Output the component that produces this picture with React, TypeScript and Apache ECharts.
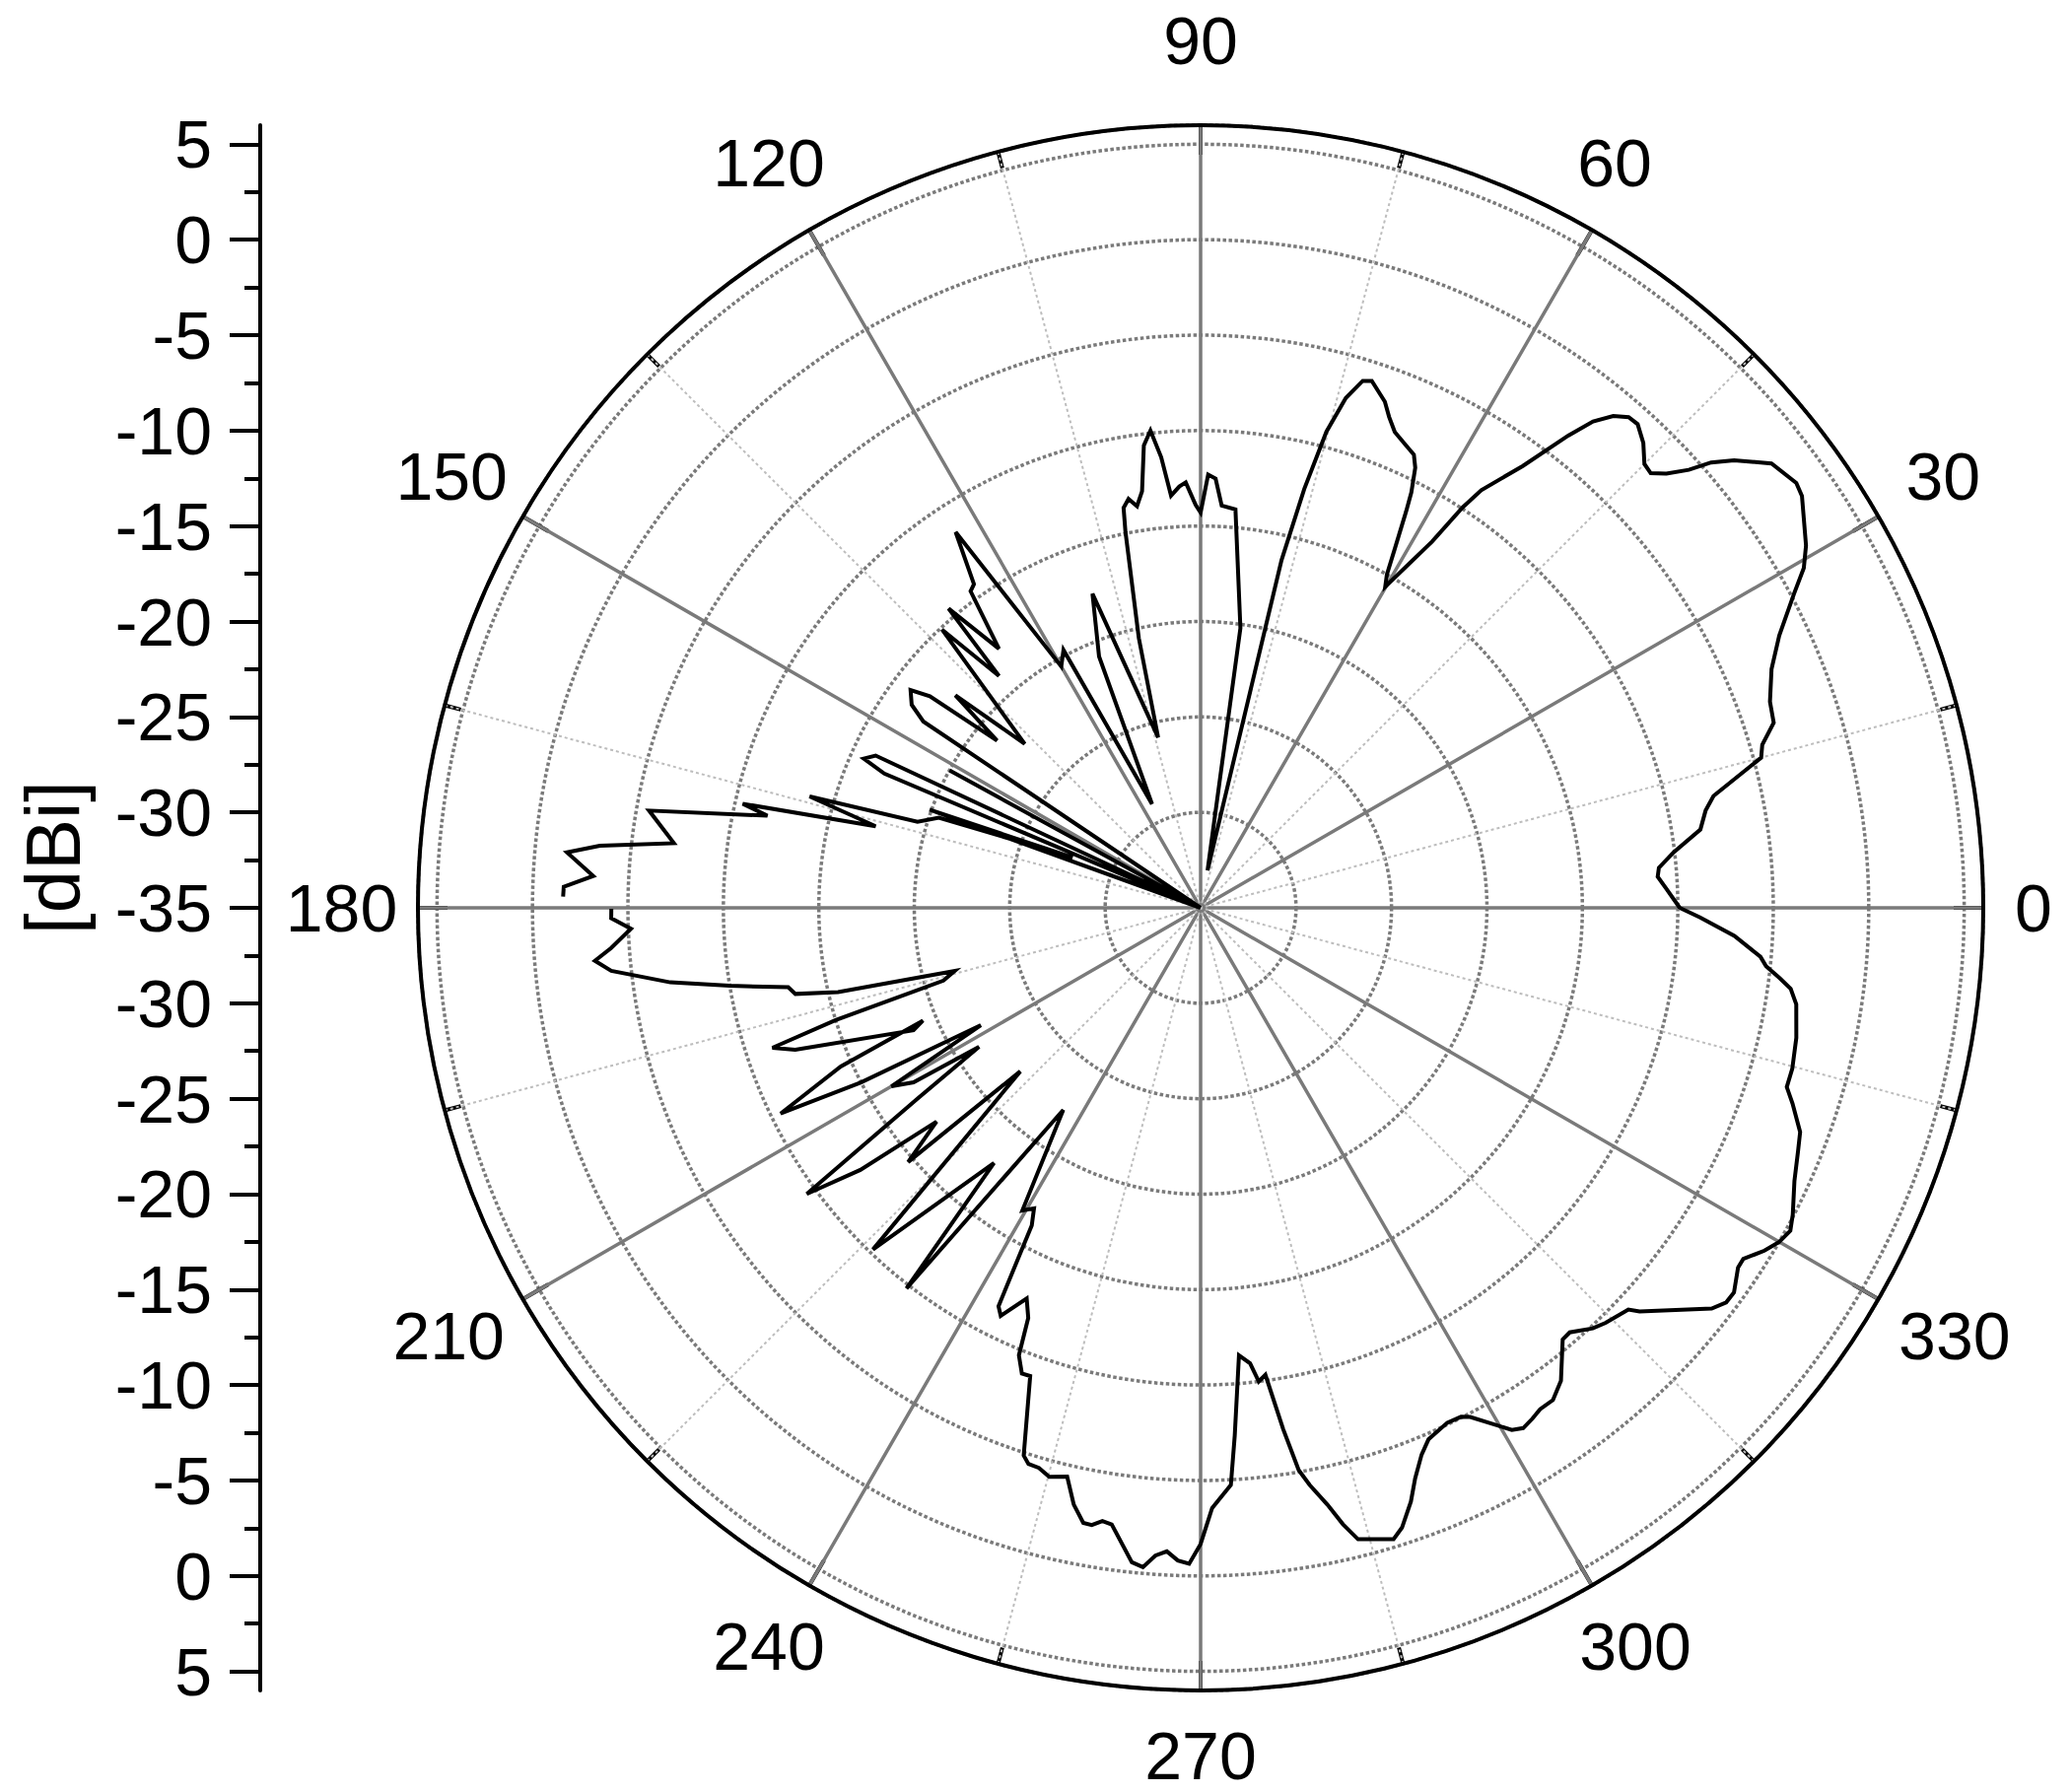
import React, { useEffect, useRef } from 'react';
import * as echarts from 'echarts';

// Measured radiation pattern: angle (deg) and gain (dBi). null = gap in the trace.
const ANGLE_DEG: number[] = [
  0, 2.4, 3.9, 5.0, 6.7, 8.9, 10.9, 12.3, 15.0, 16.2, 17.9, 19.9, 22.7, 25.2, 27.9, 29.4, 30.9, 34.4, 35.5, 37.9,
  40.0, 41.1, 41.9, 43.0, 44.0, 45.0, 46.4, 47.9, 48.9, 50.0, 51.1, 52.1, 53.9, 56.1, 56.8, 57.7, 60.1,
  60.8, 61.6, 62.6, 63.1, 64.0, 64.8, 66.1, 67.8, 69.0, 70.0, 72.0, 72.9, 74.1, 75.2, 76.1, 76.9, 79.5,
  81.9, 85.0, 87.0, 88.0, 89.0, 90.0, 90.7, 92.0, 92.9, 94.1, 95.0, 96.0, 97.0, 98.0, 99.0, 100.0, 100.9,
  101.3, 102.9, 104.0, 109.0, 112.0, 115.1, 118.0, 120.0, 123.1, 125.0, 126.0, 127.9, 130.1, 131.0, 132.9,
  137.0, 139.1, 140.6, 142.0, 143.1, 144.9, 146.1, 147.5, 151.3, 152.5, 154.9, 156.1, 157.0, 157.8, 160.1,
  158.5, 161.0, 163.1, 164.1, 165.9, 167.2, 168.0, 170.0, 173.0, 174.1, 175.0, 177.0, 178.1, 179.0,
  179.5,
  180.1, 181.0, 182.1, 183.9, 185.0, 186.1, 188.0, 189.4, 190.9, 192.0, 193.1, 193.9, 194.4, 195.8, 197.1,
  198.1, 199.3, 203.1, 202.1, 203.8, 206.1, 207.2, 208.1, 210.0, 211.3, 212.1, 214.0, 216.0, 217.6, 219.0,
  221.0, 222.2, 226.2, 231.0, 232.3, 235.8, 239.5, 241.0, 242.0, 243.1, 243.9, 246.0, 247.2, 247.9, 249.0,
  250.0, 252.1, 252.8, 253.9, 255.1, 256.8, 258.0, 259.2, 260.0, 260.9, 261.8, 264.0, 265.0, 266.0, 267.0,
  268.0, 269.0, 270.0, 271.1, 273.0, 273.7, 274.9, 276.2, 277.0, 277.9, 279.0, 279.9, 280.7, 282.0, 283.0,
  284.0, 287.0, 288.0, 289.5, 290.6, 292.0, 293.2, 295.6, 297.1, 297.9, 300.8, 301.8, 303.0, 304.1, 305.6,
  307.3, 310.0, 311.0, 313.0, 314.3, 316.8, 317.4, 321.9, 323.1, 324.2, 326.2, 327.1, 328.7, 330.0, 331.3,
  332.6, 335.3, 337.8, 339.5, 341.7, 343.0, 344.8, 347.7, 350.8, 352.2, 353.1, 354.1, 355.0, 357.0, 358.9,
  360.0,
];

const GAIN_DBI: (number | null)[] = [
  -9.9, -10.6, -11.0, -10.9, -10.05, -8.5, -8.06, -7.5, -4.6, -4.36, -3.45, -3.28, -2.58, -1.5, 0.18, 1.27, 1.96, 3.18, 3.33, 2.9,
  1.48, 0.49, -0.64, -1.64, -2.22, -2.12, -1.37, -0.85, -0.89, -1.37, -2.26, -3.65, -6.35, -8.64, -9.93, -12.3, -15.6,
  -15.0, -13.6, -11.6, -10.6, -9.35, -8.76, -8.48, -8.08, -7.45, -6.78, -5.98, -6.12, -7.23, -9.2, -12.4, -16.3, -33.0,
  -20.2, -14.05, -13.9, -12.5, -12.3, -14.3, -13.9, -12.7, -12.9, -13.35, -11.3, -9.86, -10.6, -12.96, -13.7, -13.25, -13.66,
  -14.9, -20.5, -25.8, -17.6, -20.8, -29.0, -19.7, -20.4, -11.5, -14.3, -14.5, -17.8, -14.5, -18.9, -15.1,
  -22.4, -18.0, -21.2, -17.0, -16.0, -16.5, -17.5, -35, -20.0, -35, -16.2, -15.7, -17.0, -35, -19.9,
  -27.8, -20.5, -19.5, -13.7, -17.45, -10.4, -11.8, -5.66, -7.2, -3.36, -1.68, -3.14, -1.62, -1.6,
  null,
  -4.13, -4.12, -5.14, -4.05, -3.15, -3.95, -6.95, -9.99, -13.0, -13.3, -15.5, -19.9, -21.7, -21.0, -15.0,
  -11.4, -12.5, -18.65, -19.3, -14.4, -10.5, -15.0, -21.95, -16.3, -17.4, -21.3, -17.1, -9.5, -12.5, -17.2,
  -14.7, -22.25, -10.2, -17.8, -9.8, -22.2, -16.6, -17.0, -16.16, -11.6, -11.2, -12.6, -11.7, -9.7, -8.87,
  -8.9, -4.85, -4.5, -4.46, -4.16, -4.39, -3.04, -2.2, -2.17, -2.47, -2.36, -0.53, -0.33, -0.98, -1.24,
  -0.79, -0.63, -1.67, -3.55, -4.72, -7.29, -11.47, -11.0, -10.0, -10.3, -7.35, -5.1, -4.23, -3.03, -1.86,
  -0.91, -0.42, -0.86, -2.0, -3.06, -4.1, -4.7, -5.09, -5.05, -4.82, -3.16, -2.93, -3.09, -3.28, -3.29,
  -3.85, -5.49, -5.53, -4.88, -4.62, -4.26, -3.76, -0.98, -0.57, -0.55, -1.12, -1.14, -0.43, 0.0, 0.22,
  -0.06, -0.76, -1.2, -1.47, -2.34, -2.89, -2.88, -3.06, -3.39, -3.8, -4.46, -5.22, -5.56, -7.0, -8.83,
  -9.9,
];

// Radial (dBi) scale: centre = -35, outer circle = 6
const RADIAL_MIN = -35;
const RADIAL_MAX = 6;
const RADIAL_STEP = 5;

// Left mirrored dBi scale: position p from the centre, label = |p| - 35
const LEFT_MAJOR: number[] = [-40, -35, -30, -25, -20, -15, -10, -5, 0, 5, 10, 15, 20, 25, 30, 35, 40];
const LEFT_MINOR: number[] = [-37.5, -32.5, -27.5, -22.5, -17.5, -12.5, -7.5, -2.5, 2.5, 7.5, 12.5, 17.5, 22.5, 27.5, 32.5, 37.5];

const FONT = "'Liberation Sans', Arial, Helvetica, sans-serif";
const FS = 68;

// per-angle label box tweaks (placement only)
const LABEL_BOX: Record<number, { width?: number; lineHeight?: number; padding?: number[] }> = {
  0: { width: 38 },
  30: { width: 76, lineHeight: 50 },
  60: { width: 14, lineHeight: 81 },
  90: { padding: [0, 0, 20, 0] },
  120: { width: 50, lineHeight: 81 },
  150: { width: 89, lineHeight: 50 },
  180: { width: 91 },
  210: { width: 95, lineHeight: 42 },
  240: { width: 50 },
  270: {},
  300: { width: 56 },
  330: { width: 99, lineHeight: 42 },
};

export default function App() {
  const ref = useRef<HTMLDivElement>(null);

  useEffect(() => {
    if (!ref.current) return;
    const chart = echarts.init(ref.current, null, { renderer: 'svg' });
    const data = ANGLE_DEG.map((a, i) => (GAIN_DBI[i] === null ? ['-', '-'] : [GAIN_DBI[i], a]));

    const rich: Record<string, any> = {};
    Object.keys(LABEL_BOX).forEach((k) => {
      const b = LABEL_BOX[Number(k)];
      rich['a' + k] = {
        fontSize: FS,
        fontFamily: FONT,
        color: '#000',
        align: 'center',
        ...(b.width != null ? { width: b.width } : {}),
        ...(b.lineHeight != null ? { lineHeight: b.lineHeight } : {}),
        ...(b.padding != null ? { padding: b.padding } : {}),
      };
    });

    chart.setOption({
      animation: false,
      backgroundColor: '#ffffff',
      textStyle: { fontFamily: FONT },
      polar: { center: [1218, 921], radius: 794 },
      angleAxis: {
        type: 'value',
        min: 0,
        max: 360,
        interval: 30,
        startAngle: 0,
        clockwise: false,
        axisLine: { show: true, lineStyle: { color: '#000', width: 4 } },
        axisTick: { show: true, inside: true, length: 30, lineStyle: { color: '#000', width: 4 } },
        minorTick: { show: true, splitNumber: 2, length: 17, lineStyle: { color: '#000', width: 4 } },
        splitLine: { show: true, lineStyle: { color: '#7a7a7a', width: 3.5, type: 'solid' } },
        minorSplitLine: { show: true, lineStyle: { color: '#bdbdbd', width: 2, type: [3, 3] } },
        axisLabel: {
          show: true,
          margin: 32,
          fontSize: FS,
          color: '#000',
          fontFamily: FONT,
          formatter: (v: number) => {
            if (v === 360) return '';
            return `{a${v}|${v}}`;
          },
          rich,
        },
      },
      radiusAxis: {
        type: 'value',
        min: RADIAL_MIN,
        max: RADIAL_MAX,
        interval: RADIAL_STEP,
        axisLine: { show: false },
        axisTick: { show: false },
        axisLabel: { show: false },
        splitLine: { show: true, lineStyle: { color: '#7a7a7a', width: 3.5, type: [3.5, 2.5] } },
      },
      grid: { left: 264, top: 127, width: 1, height: 1588 },
      xAxis: { type: 'value', show: false, min: 0, max: 1 },
      yAxis: [
        {
          type: 'value',
          min: -41,
          max: 41,
          position: 'left',
          axisLine: { show: true, lineStyle: { color: '#000', width: 4 } },
          axisTick: { show: true, length: 31, customValues: LEFT_MAJOR, lineStyle: { color: '#000', width: 4 } },
          axisLabel: {
            show: true,
            customValues: LEFT_MAJOR,
            margin: 49,
            fontSize: FS,
            color: '#000',
            fontFamily: FONT,
            formatter: (v: number) => String(Math.abs(v) + RADIAL_MIN),
          },
          splitLine: { show: false },
        },
        {
          type: 'value',
          min: -41,
          max: 41,
          position: 'left',
          axisLine: { show: false },
          axisTick: { show: true, length: 16, customValues: LEFT_MINOR, lineStyle: { color: '#000', width: 4 } },
          axisLabel: { show: false },
          splitLine: { show: false },
        },
      ],
      graphic: [
        {
          type: 'text',
          x: 54,
          y: 870,
          rotation: Math.PI / 2,
          style: {
            text: '[dBi]',
            fontSize: 78,
            fontFamily: FONT,
            fill: '#000',
            align: 'center',
            verticalAlign: 'middle',
            textAlign: 'center',
            textVerticalAlign: 'middle',
          },
        },
      ],
      series: [
        {
          type: 'line',
          coordinateSystem: 'polar',
          data,
          showSymbol: false,
          symbol: 'none',
          connectNulls: false,
          lineStyle: { color: '#000', width: 4, join: 'miter' },
          z: 10,
        },
      ],
    });

    return () => chart.dispose();
  }, []);

  return <div ref={ref} style={{ position: 'fixed', left: 0, top: 0, width: 2101, height: 1818, background: '#fff' }} />;
}
